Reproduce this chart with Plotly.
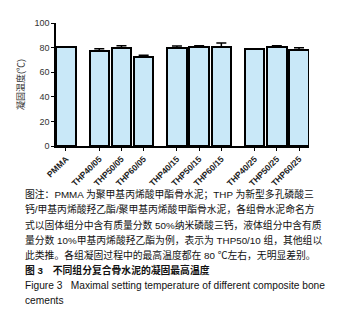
import plotly.graph_objects as go

categories = ["PMMA", "THP40/05", "THP50/05", "THP60/05", "THP40/15",
              "THP50/15", "THP60/15", "THP40/25", "THP50/25", "THP60/25"]
groups = ["PMMA", "05", "05", "05", "15", "15", "15", "25", "25", "25"]
means = [80.5, 77.1, 79.9, 72.7, 79.7, 80.7, 80.5, 78.7, 80.7, 77.9]
errors = [0.0, 2.0, 1.6, 1.0, 1.6, 0.8, 3.3, 0.3, 0.8, 2.0]
y_ticks = [0, 20, 40, 60, 80, 100]

caption_lines = [
    "图注：PMMA 为聚甲基丙烯酸甲酯骨水泥；THP 为新型多孔磷酸三",
    "钙/甲基丙烯酸羟乙酯/聚甲基丙烯酸甲酯骨水泥，各组骨水泥命名方",
    "式以固体组分中含有质量分数 50%纳米磷酸三钙，液体组分中含有质",
    "量分数 10%甲基丙烯酸羟乙酯为例，表示为 THP50/10 组，其他组以",
    "此类推。各组凝固过程中的最高温度都在 80 ℃左右，无明显差别。",
    "<b>图 3　不同组分复合骨水泥的凝固最高温度</b>",
    "Figure 3   Maximal setting temperature of different composite bone",
    "cements",
]
caption_sizes = [9.8, 9.8, 9.8, 9.8, 9.8, 9.8, 10.2, 10.2]

# x positions: extra half slot between groups
pos = []
p = 0.0
for i, g in enumerate(groups):
    if i > 0:
        p += 1.0 + (0.5 if g != groups[i - 1] else 0.0)
    pos.append(p)

W, H = 345, 311
L, R, T, B = 48, 44, 10, 173
plot_h = H - T - B

FONT = "Liberation Sans, Arial, Noto Sans CJK SC, sans-serif"

fig = go.Figure()
fig.add_trace(go.Bar(
    x=pos, y=means, width=0.88,
    marker=dict(color="#c9e8f8", line=dict(color="black", width=2)),
    error_y=dict(type="data", array=errors, arrayminus=[0] * len(errors),
                 symmetric=False, color="black", thickness=1.5, width=5),
))

annotations = []
line_y0 = 188
line_step = 15.9
for k, txt in enumerate(caption_lines):
    ypix = line_y0 + k * line_step
    annotations.append(dict(
        text=txt, xref="paper", yref="paper",
        x=(15 - L) / (W - L - R), y=(H - B - ypix) / plot_h,
        xanchor="left", yanchor="middle", showarrow=False,
        font=dict(size=caption_sizes[k], color="#111", family=FONT),
    ))

fig.update_layout(
    width=W, height=H,
    margin=dict(l=L, r=R, t=T, b=B, pad=0),
    paper_bgcolor="white", plot_bgcolor="white",
    showlegend=False, bargap=0,
    font=dict(family=FONT, color="#222"),
    annotations=annotations,
    xaxis=dict(
        range=[pos[0] - 0.45, pos[-1] + 0.45],
        tickmode="array", tickvals=pos,
        ticktext=["<b>%s</b>" % c for c in categories],
        tickangle=-45, tickfont=dict(size=8.5, color="#222"),
        showline=True, linecolor="black", linewidth=1.5,
        ticks="outside", ticklen=3, tickwidth=1, tickcolor="black",
        showgrid=False, zeroline=False, fixedrange=True,
    ),
    yaxis=dict(
        range=[0, 100], tickmode="array", tickvals=y_ticks,
        tickfont=dict(size=9, color="#333"),
        showline=True, linecolor="black", linewidth=1.5,
        ticks="outside", ticklen=3, tickwidth=1, tickcolor="black",
        showgrid=False, zeroline=False,
        title=dict(text="凝固温度(℃)", font=dict(size=9, color="#333"), standoff=8),
    ),
)

fig.write_html("out.html")
